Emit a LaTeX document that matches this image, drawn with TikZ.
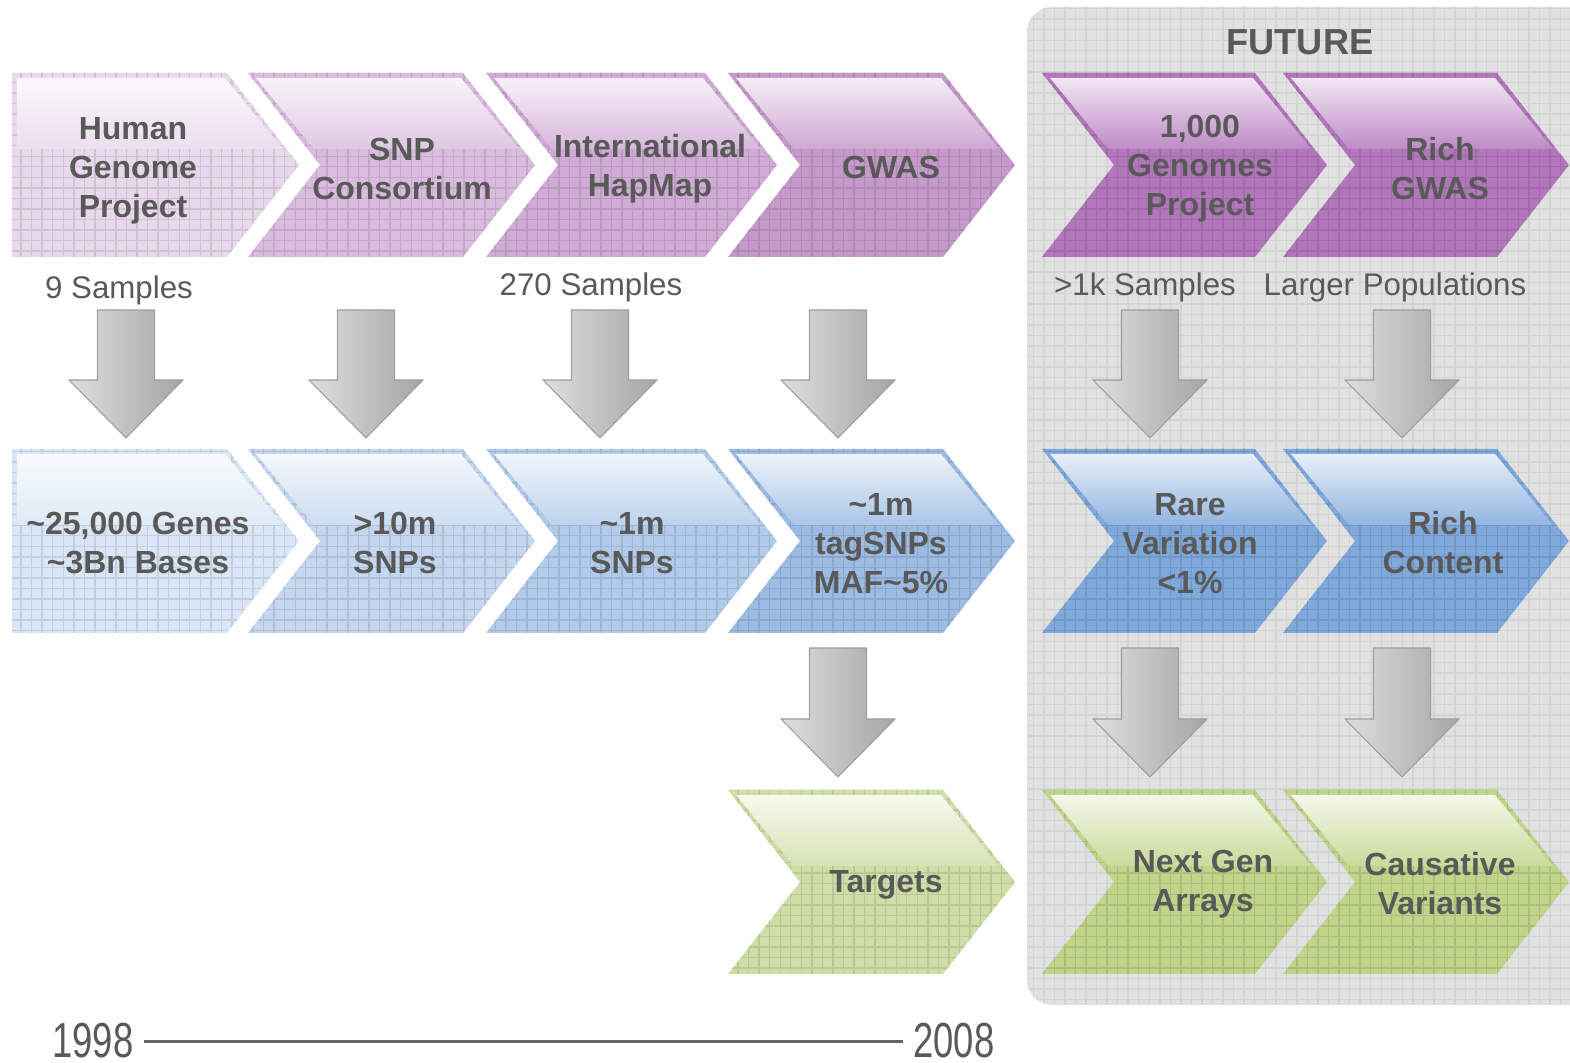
\documentclass[tikz,border=0pt]{standalone}
\usepackage{fontspec}
\setmainfont{Liberation Sans}
\usetikzlibrary{patterns}

\definecolor{txtgray}{HTML}{595959}
\definecolor{panelgray}{HTML}{E1E1E1}
\definecolor{pA}{HTML}{E8D8EB}
\definecolor{pB}{HTML}{DABDDE}
\definecolor{pC}{HTML}{D0ABD5}
\definecolor{pD}{HTML}{C699CB}
\definecolor{pE}{HTML}{B277BB}
\definecolor{bA}{HTML}{D9E6F5}
\definecolor{bB}{HTML}{C4D7EF}
\definecolor{bC}{HTML}{B2CBEA}
\definecolor{bD}{HTML}{9CBCE3}
\definecolor{bE}{HTML}{7FA8DB}
\definecolor{gD}{HTML}{CFDEA6}
\definecolor{gE}{HTML}{C0D48A}

% notched chevron: left x, right x, top y, colour
\newcommand{\chev}[4]{%
  \path[fill=#4, postaction={pattern=grid, pattern color=#4!90!black}]
    (#1,#3) -- (#2,#3) -- ({#2+0.72},{#3-0.92}) -- (#2,{#3-1.84}) -- (#1,{#3-1.84}) -- ({#1+0.72},{#3-0.92}) -- cycle;%
  \shade[top color=#4!18!white, bottom color=#4!85!white]
    ({#1+0.08},{#3-0.05}) -- ({#2-0.02},{#3-0.05}) -- ({#2+0.56},{#3-0.76}) -- ({#1+0.66},{#3-0.76}) -- cycle;%
}
% chevron with a flat left side
\newcommand{\flatchev}[4]{%
  \path[fill=#4, postaction={pattern=grid, pattern color=#4!90!black}]
    (#1,#3) -- (#2,#3) -- ({#2+0.72},{#3-0.92}) -- (#2,{#3-1.84}) -- (#1,{#3-1.84}) -- cycle;%
  \shade[top color=#4!18!white, bottom color=#4!85!white]
    ({#1+0.05},{#3-0.05}) -- ({#2-0.02},{#3-0.05}) -- ({#2+0.56},{#3-0.76}) -- ({#1+0.05},{#3-0.76}) -- cycle;%
}
% grey block arrow: centre x, top y, tip y
\newcommand{\blockarrow}[3]{%
  \shade[left color=black!13, right color=black!35, draw=black!38, line width=0.3pt]
    ({#1-0.285},#2) -- ({#1+0.285},#2) -- ({#1+0.285},{#3+0.58}) -- ({#1+0.57},{#3+0.58}) -- (#1,#3)
    -- ({#1-0.57},{#3+0.58}) -- ({#1-0.285},{#3+0.58}) -- cycle;%
}

\begin{document}
\begin{tikzpicture}[
    lab/.style={text=txtgray, align=center, font=\bfseries\fontsize{9.1}{11.1}\selectfont},
    note/.style={text=txtgray, font=\fontsize{8.9}{10.7}\selectfont},
    year/.style={text=txtgray, inner sep=0.1cm, font=\fontsize{14}{16}\selectfont}]
  \useasboundingbox (0,0) rectangle (15.70,10.63);
  \clip (0,0) rectangle (15.70,10.63);

  % Drawing the future panel
  \path[fill=panelgray, rounded corners=0.25cm, postaction={pattern=grid, pattern color=black!17}]
    (10.27,0.58) rectangle (16.40,10.56);
  \node[lab, font=\bfseries\fontsize{10.3}{12}\selectfont] (future) at (13.00,10.21) {FUTURE};

  % Drawing chevrons of the first row
  \flatchev{0.12}{2.27}{9.90}{pA}
  \chev{2.48}{4.63}{9.90}{pB}
  \chev{4.86}{7.05}{9.90}{pC}
  \chev{7.28}{9.43}{9.90}{pD}
  \chev{10.42}{12.55}{9.90}{pE}
  \chev{12.83}{14.97}{9.90}{pE}

  % Drawing chevrons of the second row
  \flatchev{0.12}{2.27}{6.14}{bA}
  \chev{2.48}{4.63}{6.14}{bB}
  \chev{4.86}{7.05}{6.14}{bC}
  \chev{7.28}{9.43}{6.14}{bD}
  \chev{10.42}{12.55}{6.14}{bE}
  \chev{12.83}{14.97}{6.14}{bE}

  % Drawing chevrons of the third row
  \chev{7.28}{9.43}{2.73}{gD}
  \chev{10.42}{12.55}{2.73}{gE}
  \chev{12.83}{14.97}{2.73}{gE}

  % Drawing block arrows
  \blockarrow{1.26}{7.53}{6.25}
  \blockarrow{3.66}{7.53}{6.25}
  \blockarrow{6.00}{7.53}{6.25}
  \blockarrow{8.38}{7.53}{6.25}
  \blockarrow{11.50}{7.53}{6.25}
  \blockarrow{14.02}{7.53}{6.25}
  \blockarrow{8.38}{4.15}{2.86}
  \blockarrow{11.50}{4.15}{2.86}
  \blockarrow{14.02}{4.15}{2.86}

  % Marking the first row
  \node[lab] (hgp) at (1.33,8.92) {Human\\Genome\\Project};
  \node[lab] (snpc) at (4.02,8.94) {SNP\\Consortium};
  \node[lab] (hapmap) at (6.50,8.94) {International\\HapMap};
  \node[lab] (gwas) at (8.91,8.95) {GWAS};
  \node[lab] (kgp) at (12.00,8.94) {1,000\\Genomes\\Project};
  \node[lab] (richgwas) at (14.40,8.94) {Rich\\GWAS};

  % Marking the sample counts
  \node[note] (samp9) at (1.19,7.73) {9 Samples};
  \node[note] (samp270) at (5.91,7.76) {270 Samples};
  \node[note] (samp1k) at (11.45,7.76) {>1k Samples};
  \node[note] (largerpop) at (13.95,7.76) {Larger Populations};

  % Marking the second row
  \node[lab] (genes) at (1.38,5.20) {\textasciitilde25,000 Genes\\\textasciitilde3Bn Bases};
  \node[lab] (snps10) at (3.95,5.20) {>10m\\SNPs};
  \node[lab] (snps1) at (6.32,5.20) {\textasciitilde1m\\SNPs};
  \node[lab] (tagsnps) at (8.81,5.19) {\textasciitilde1m\\tagSNPs\\MAF\textasciitilde5\%};
  \node[lab] (rare) at (11.90,5.19) {Rare\\Variation\\<1\%};
  \node[lab] (richcont) at (14.43,5.20) {Rich\\Content};

  % Marking the third row
  \node[lab] (targets) at (8.86,1.78) {Targets};
  \node[lab] (nextgen) at (12.03,1.79) {Next Gen\\Arrays};
  \node[lab] (causal) at (14.40,1.79) {Causative\\Variants};

  % Drawing the time line
  \node[year, anchor=base] (y1998) at (0.93,0.05) {\scalebox{0.74}[1]{1998}};
  \node[year, anchor=base] (y2008) at (9.54,0.05) {\scalebox{0.74}[1]{2008}};
  \draw[line width=0.85pt, black!60] (y1998) -- (y2008);
\end{tikzpicture}
\end{document}
